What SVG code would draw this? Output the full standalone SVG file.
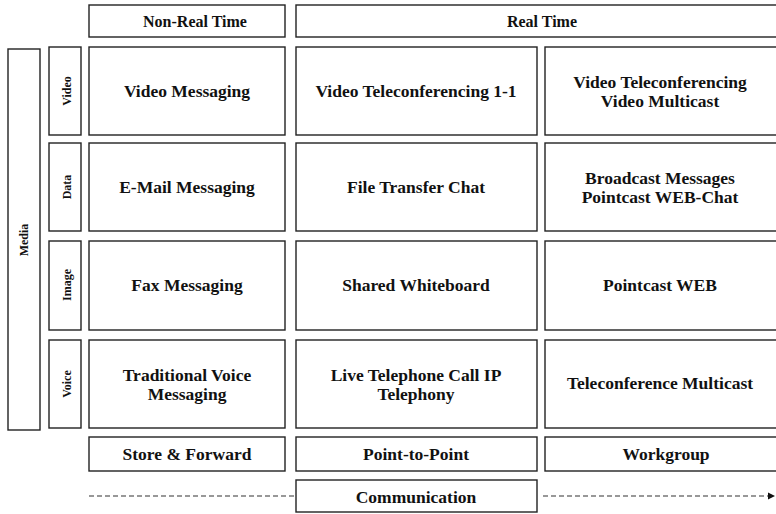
<svg xmlns="http://www.w3.org/2000/svg" width="776" height="514" viewBox="0 0 776 514">
  <style>
    rect.box { fill: #fff; stroke: #222; stroke-width: 1.4; }
    text { font-family: "Liberation Serif", "Times New Roman", serif; font-weight: bold; fill: #111; text-anchor: middle; }
    .cell { font-size: 17.5px; }
    .head { font-size: 16px; }
    .foot { font-size: 17.5px; }
    .side { font-size: 12px; }
    .dash { stroke: #333; stroke-width: 1.2; stroke-dasharray: 5 3; fill: none; }
  </style>
  <defs>
    <marker id="arrow" markerWidth="8" markerHeight="8" refX="7" refY="4" orient="auto" markerUnits="userSpaceOnUse">
      <path d="M0,0.5 L7,4 L0,7.5 Z" fill="#111"/>
    </marker>
  </defs>
  <rect width="776" height="514" fill="#fff"/>

  <!-- column headers -->
  <g id="hdr-nonreal"><rect class="box" x="89" y="5" width="196" height="32"/><text class="head" x="195" y="27">Non-Real Time</text></g>
  <g id="hdr-real"><rect class="box" x="296" y="5" width="482" height="32"/><text class="head" x="542" y="27">Real Time</text></g>

  <!-- media axis -->
  <g id="media"><rect class="box" x="8" y="49" width="32" height="381"/><text class="side" transform="translate(28,240) rotate(-90)">Media</text></g>
  <g id="lbl-video"><rect class="box" x="49" y="47" width="32" height="88"/><text class="side" transform="translate(71,91) rotate(-90)">Video</text></g>
  <g id="lbl-data"><rect class="box" x="49" y="143" width="32" height="88"/><text class="side" transform="translate(71,187) rotate(-90)">Data</text></g>
  <g id="lbl-image"><rect class="box" x="49" y="241" width="32" height="89"/><text class="side" transform="translate(71,285) rotate(-90)">Image</text></g>
  <g id="lbl-voice"><rect class="box" x="49" y="340" width="32" height="88"/><text class="side" transform="translate(71,384) rotate(-90)">Voice</text></g>

  <!-- video row -->
  <g id="video-messaging"><rect class="box" x="89" y="47" width="196" height="88"/><text class="cell" x="187" y="97">Video Messaging</text></g>
  <g id="video-conf-11"><rect class="box" x="296" y="47" width="241" height="88"/><text class="cell" x="416" y="97">Video Teleconferencing 1-1</text></g>
  <g id="video-multicast"><rect class="box" x="545" y="47" width="233" height="88"/><text class="cell" x="660" y="88">Video Teleconferencing</text><text class="cell" x="660" y="107">Video Multicast</text></g>

  <!-- data row -->
  <g id="email"><rect class="box" x="89" y="143" width="196" height="88"/><text class="cell" x="187" y="193">E-Mail Messaging</text></g>
  <g id="file-transfer"><rect class="box" x="296" y="143" width="241" height="88"/><text class="cell" x="416" y="193">File Transfer Chat</text></g>
  <g id="broadcast"><rect class="box" x="545" y="143" width="233" height="88"/><text class="cell" x="660" y="184">Broadcast Messages</text><text class="cell" x="660" y="203">Pointcast WEB-Chat</text></g>

  <!-- image row -->
  <g id="fax"><rect class="box" x="89" y="241" width="196" height="89"/><text class="cell" x="187" y="291">Fax Messaging</text></g>
  <g id="whiteboard"><rect class="box" x="296" y="241" width="241" height="89"/><text class="cell" x="416" y="291">Shared Whiteboard</text></g>
  <g id="pointcast"><rect class="box" x="545" y="241" width="233" height="89"/><text class="cell" x="660" y="291">Pointcast WEB</text></g>

  <!-- voice row -->
  <g id="voice-msg"><rect class="box" x="89" y="340" width="196" height="88"/><text class="cell" x="187" y="381">Traditional Voice</text><text class="cell" x="187" y="400">Messaging</text></g>
  <g id="telephony"><rect class="box" x="296" y="340" width="241" height="88"/><text class="cell" x="416" y="381">Live Telephone Call IP</text><text class="cell" x="416" y="400">Telephony</text></g>
  <g id="teleconf-multicast"><rect class="box" x="545" y="340" width="233" height="88"/><text class="cell" x="660" y="389">Teleconference Multicast</text></g>

  <!-- communication modes -->
  <g id="store-forward"><rect class="box" x="89" y="437" width="196" height="34"/><text class="foot" x="187" y="460">Store &amp; Forward</text></g>
  <g id="p2p"><rect class="box" x="296" y="437" width="241" height="34"/><text class="foot" x="416" y="460">Point-to-Point</text></g>
  <g id="workgroup"><rect class="box" x="545" y="437" width="233" height="34"/><text class="foot" x="666" y="460">Workgroup</text></g>

  <g id="communication"><rect class="box" x="296" y="480" width="241" height="32"/><text class="foot" x="416" y="503">Communication</text></g>

  <!-- communication axis -->
  <g id="connectors">
    <line class="dash" x1="89" y1="496" x2="296" y2="496"/>
    <line class="dash" x1="543" y1="496" x2="775" y2="496" marker-end="url(#arrow)"/>
  </g>
</svg>
